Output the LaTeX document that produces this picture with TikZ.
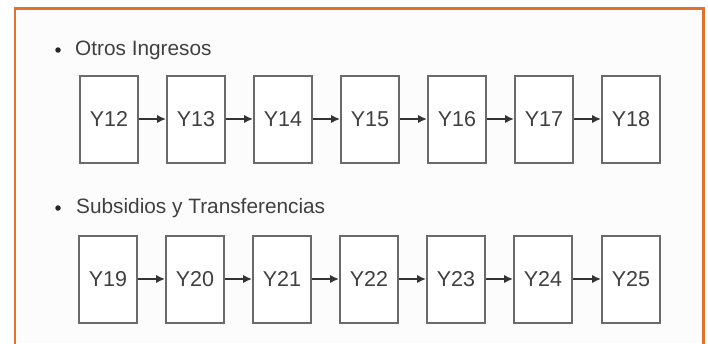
\documentclass[tikz,border=0pt]{standalone}
\usepackage{fontspec}
\setmainfont{Liberation Sans}
\usetikzlibrary{arrows.meta}
\definecolor{frameor}{HTML}{E2712E}
\definecolor{boxgray}{HTML}{6A6A6A}
\definecolor{txtgray}{HTML}{404040}
\tikzset{
  ybox/.style={draw=boxgray, line width=2pt, minimum width=58pt, minimum height=87pt, inner sep=0pt, fill=white, text=txtgray, font=\fontsize{21.5}{25}\selectfont},
  flow/.style={draw=black!80, line width=1.8pt, -{Latex[length=9pt,width=8.5pt]}},
  bullettext/.style={anchor=west, inner sep=0pt, text=txtgray, font=\fontsize{20.8}{24}\selectfont},
  bulletdot/.style={circle, fill=black!85, inner sep=0pt, minimum size=5.5pt}
}
\begin{document}
\begin{tikzpicture}[x=1pt,y=-1pt]
\useasboundingbox (0,0) rectangle (708,343);
\fill[white] (0,0) rectangle (708,343);
\fill[black!1] (16,10) rectangle (702,343);
\draw[frameor, line width=2.6pt] (15,345) -- (15,8.5) -- (703.5,8.5) -- (703.5,345);

\node[bulletdot] (b1) at (58,50) {};
\node[bullettext] (t1) at (75,50) {Otros Ingresos};
\node[bulletdot] (b2) at (58,208) {};
\node[bullettext] (t2) at (76,208) {Subsidios y Transferencias};

\foreach \i/\x in {12/109,13/196,14/283,15/370,16/457,17/544,18/631}{
  \node[ybox] (y\i) at (\x,119) {Y\i};
}
\foreach \i/\x in {19/108,20/195,21/282,22/369,23/456,24/543,25/631}{
  \node[ybox] (y\i) at (\x,279) {Y\i};
}
\foreach \a/\b in {12/13,13/14,14/15,15/16,16/17,17/18,19/20,20/21,21/22,22/23,23/24,24/25}{
  \draw[flow] (y\a) -- (y\b);
}
\end{tikzpicture}
\end{document}
